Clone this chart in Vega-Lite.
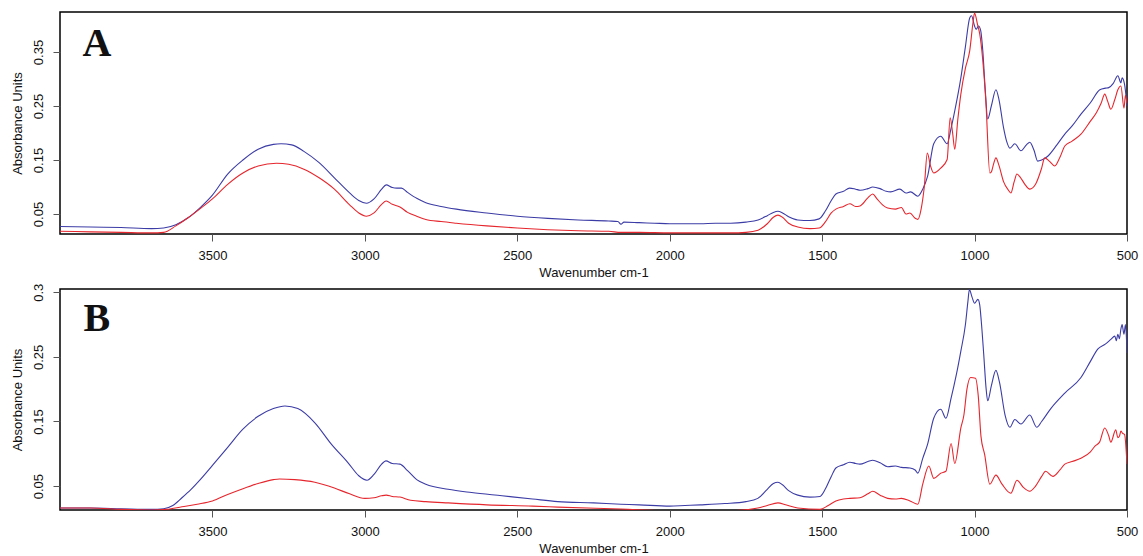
{
  "$schema": "https://vega.github.io/schema/vega-lite/v6.json",
  "padding": {"left": 10, "top": 11, "right": 0, "bottom": 0},
  "spacing": 55,
  "bounds": "flush",
  "config": {
    "view": {"stroke": "#000", "strokeWidth": 1.5},
    "font": "Liberation Sans",
    "axis": {"grid": false, "domain": false, "tickSize": 7, "tickColor": "#555", "labelColor": "#111", "titleColor": "#111", "labelFontSize": 13, "titleFontSize": 13, "titleFontWeight": "normal", "labelOverlap": false, "labelFlush": false}
  },
  "datasets": {
    "A": [
      {"s":"blue","wn":4000,"a":0.027},{"s":"blue","wn":3900,"a":0.026},{"s":"blue","wn":3800,"a":0.025},{"s":"blue","wn":3700,"a":0.023},{"s":"blue","wn":3660,"a":0.024},{"s":"blue","wn":3620,"a":0.030},{"s":"blue","wn":3580,"a":0.043},{"s":"blue","wn":3540,"a":0.062},{"s":"blue","wn":3500,"a":0.085},{"s":"blue","wn":3450,"a":0.124},{"s":"blue","wn":3400,"a":0.150},{"s":"blue","wn":3350,"a":0.170},{"s":"blue","wn":3300,"a":0.179},{"s":"blue","wn":3275,"a":0.180},{"s":"blue","wn":3240,"a":0.178},{"s":"blue","wn":3200,"a":0.166},{"s":"blue","wn":3150,"a":0.145},{"s":"blue","wn":3100,"a":0.117},{"s":"blue","wn":3050,"a":0.089},{"s":"blue","wn":3020,"a":0.075},{"s":"blue","wn":2995,"a":0.070},{"s":"blue","wn":2970,"a":0.078},{"s":"blue","wn":2945,"a":0.096},{"s":"blue","wn":2930,"a":0.104},{"s":"blue","wn":2910,"a":0.099},{"s":"blue","wn":2895,"a":0.098},{"s":"blue","wn":2880,"a":0.098},{"s":"blue","wn":2860,"a":0.090},{"s":"blue","wn":2830,"a":0.079},{"s":"blue","wn":2800,"a":0.071},{"s":"blue","wn":2750,"a":0.064},{"s":"blue","wn":2700,"a":0.059},{"s":"blue","wn":2600,"a":0.052},{"s":"blue","wn":2500,"a":0.046},{"s":"blue","wn":2400,"a":0.042},{"s":"blue","wn":2300,"a":0.039},{"s":"blue","wn":2200,"a":0.037},{"s":"blue","wn":2170,"a":0.036},{"s":"blue","wn":2160,"a":0.031},{"s":"blue","wn":2150,"a":0.035},{"s":"blue","wn":2100,"a":0.034},{"s":"blue","wn":2050,"a":0.033},{"s":"blue","wn":2000,"a":0.032},{"s":"blue","wn":1950,"a":0.032},{"s":"blue","wn":1900,"a":0.032},{"s":"blue","wn":1850,"a":0.033},{"s":"blue","wn":1800,"a":0.033},{"s":"blue","wn":1750,"a":0.035},{"s":"blue","wn":1710,"a":0.039},{"s":"blue","wn":1680,"a":0.047},{"s":"blue","wn":1660,"a":0.053},{"s":"blue","wn":1645,"a":0.055},{"s":"blue","wn":1630,"a":0.052},{"s":"blue","wn":1610,"a":0.045},{"s":"blue","wn":1580,"a":0.039},{"s":"blue","wn":1540,"a":0.038},{"s":"blue","wn":1510,"a":0.041},{"s":"blue","wn":1490,"a":0.055},{"s":"blue","wn":1470,"a":0.075},{"s":"blue","wn":1455,"a":0.087},{"s":"blue","wn":1430,"a":0.092},{"s":"blue","wn":1410,"a":0.098},{"s":"blue","wn":1390,"a":0.096},{"s":"blue","wn":1375,"a":0.094},{"s":"blue","wn":1350,"a":0.097},{"s":"blue","wn":1334,"a":0.100},{"s":"blue","wn":1310,"a":0.097},{"s":"blue","wn":1290,"a":0.092},{"s":"blue","wn":1275,"a":0.091},{"s":"blue","wn":1245,"a":0.096},{"s":"blue","wn":1225,"a":0.089},{"s":"blue","wn":1210,"a":0.091},{"s":"blue","wn":1186,"a":0.083},{"s":"blue","wn":1170,"a":0.096},{"s":"blue","wn":1154,"a":0.120},{"s":"blue","wn":1134,"a":0.180},{"s":"blue","wn":1111,"a":0.194},{"s":"blue","wn":1090,"a":0.180},{"s":"blue","wn":1077,"a":0.209},{"s":"blue","wn":1065,"a":0.241},{"s":"blue","wn":1045,"a":0.302},{"s":"blue","wn":1030,"a":0.360},{"s":"blue","wn":1016,"a":0.413},{"s":"blue","wn":1010,"a":0.417},{"s":"blue","wn":1000,"a":0.398},{"s":"blue","wn":995,"a":0.392},{"s":"blue","wn":987,"a":0.398},{"s":"blue","wn":980,"a":0.390},{"s":"blue","wn":973,"a":0.352},{"s":"blue","wn":965,"a":0.280},{"s":"blue","wn":957,"a":0.226},{"s":"blue","wn":945,"a":0.250},{"s":"blue","wn":930,"a":0.280},{"s":"blue","wn":920,"a":0.262},{"s":"blue","wn":905,"a":0.210},{"s":"blue","wn":895,"a":0.185},{"s":"blue","wn":884,"a":0.172},{"s":"blue","wn":868,"a":0.180},{"s":"blue","wn":848,"a":0.167},{"s":"blue","wn":830,"a":0.178},{"s":"blue","wn":819,"a":0.183},{"s":"blue","wn":805,"a":0.168},{"s":"blue","wn":793,"a":0.148},{"s":"blue","wn":780,"a":0.150},{"s":"blue","wn":760,"a":0.157},{"s":"blue","wn":730,"a":0.178},{"s":"blue","wn":704,"a":0.198},{"s":"blue","wn":680,"a":0.213},{"s":"blue","wn":651,"a":0.235},{"s":"blue","wn":620,"a":0.256},{"s":"blue","wn":589,"a":0.280},{"s":"blue","wn":570,"a":0.283},{"s":"blue","wn":560,"a":0.284},{"s":"blue","wn":545,"a":0.292},{"s":"blue","wn":530,"a":0.306},{"s":"blue","wn":520,"a":0.293},{"s":"blue","wn":516,"a":0.302},{"s":"blue","wn":508,"a":0.290},{"s":"blue","wn":500,"a":0.250},
      {"s":"red","wn":4000,"a":0.018},{"s":"red","wn":3900,"a":0.017},{"s":"red","wn":3800,"a":0.016},{"s":"red","wn":3700,"a":0.015},{"s":"red","wn":3660,"a":0.016},{"s":"red","wn":3620,"a":0.028},{"s":"red","wn":3580,"a":0.043},{"s":"red","wn":3540,"a":0.060},{"s":"red","wn":3500,"a":0.078},{"s":"red","wn":3450,"a":0.105},{"s":"red","wn":3400,"a":0.126},{"s":"red","wn":3350,"a":0.139},{"s":"red","wn":3290,"a":0.144},{"s":"red","wn":3250,"a":0.142},{"s":"red","wn":3200,"a":0.133},{"s":"red","wn":3150,"a":0.117},{"s":"red","wn":3100,"a":0.096},{"s":"red","wn":3050,"a":0.067},{"s":"red","wn":3020,"a":0.052},{"s":"red","wn":2995,"a":0.046},{"s":"red","wn":2970,"a":0.052},{"s":"red","wn":2945,"a":0.068},{"s":"red","wn":2930,"a":0.074},{"s":"red","wn":2910,"a":0.068},{"s":"red","wn":2885,"a":0.063},{"s":"red","wn":2860,"a":0.053},{"s":"red","wn":2830,"a":0.046},{"s":"red","wn":2800,"a":0.040},{"s":"red","wn":2750,"a":0.036},{"s":"red","wn":2700,"a":0.033},{"s":"red","wn":2600,"a":0.028},{"s":"red","wn":2500,"a":0.024},{"s":"red","wn":2400,"a":0.021},{"s":"red","wn":2300,"a":0.019},{"s":"red","wn":2200,"a":0.018},{"s":"red","wn":2160,"a":0.016},{"s":"red","wn":2100,"a":0.016},{"s":"red","wn":2000,"a":0.015},{"s":"red","wn":1900,"a":0.015},{"s":"red","wn":1800,"a":0.015},{"s":"red","wn":1750,"a":0.016},{"s":"red","wn":1710,"a":0.020},{"s":"red","wn":1680,"a":0.032},{"s":"red","wn":1660,"a":0.044},{"s":"red","wn":1645,"a":0.048},{"s":"red","wn":1630,"a":0.044},{"s":"red","wn":1610,"a":0.033},{"s":"red","wn":1580,"a":0.026},{"s":"red","wn":1540,"a":0.023},{"s":"red","wn":1510,"a":0.024},{"s":"red","wn":1490,"a":0.035},{"s":"red","wn":1470,"a":0.052},{"s":"red","wn":1455,"a":0.059},{"s":"red","wn":1430,"a":0.064},{"s":"red","wn":1409,"a":0.069},{"s":"red","wn":1390,"a":0.064},{"s":"red","wn":1376,"a":0.065},{"s":"red","wn":1350,"a":0.080},{"s":"red","wn":1334,"a":0.087},{"s":"red","wn":1320,"a":0.078},{"s":"red","wn":1300,"a":0.066},{"s":"red","wn":1285,"a":0.061},{"s":"red","wn":1260,"a":0.059},{"s":"red","wn":1240,"a":0.062},{"s":"red","wn":1225,"a":0.050},{"s":"red","wn":1212,"a":0.052},{"s":"red","wn":1195,"a":0.042},{"s":"red","wn":1186,"a":0.040},{"s":"red","wn":1175,"a":0.060},{"s":"red","wn":1165,"a":0.100},{"s":"red","wn":1155,"a":0.163},{"s":"red","wn":1145,"a":0.140},{"s":"red","wn":1134,"a":0.126},{"s":"red","wn":1111,"a":0.135},{"s":"red","wn":1090,"a":0.151},{"s":"red","wn":1080,"a":0.228},{"s":"red","wn":1072,"a":0.200},{"s":"red","wn":1065,"a":0.170},{"s":"red","wn":1055,"a":0.225},{"s":"red","wn":1045,"a":0.272},{"s":"red","wn":1030,"a":0.320},{"s":"red","wn":1016,"a":0.352},{"s":"red","wn":1005,"a":0.405},{"s":"red","wn":1000,"a":0.422},{"s":"red","wn":990,"a":0.400},{"s":"red","wn":983,"a":0.383},{"s":"red","wn":963,"a":0.259},{"s":"red","wn":950,"a":0.126},{"s":"red","wn":945,"a":0.128},{"s":"red","wn":938,"a":0.142},{"s":"red","wn":930,"a":0.154},{"s":"red","wn":920,"a":0.140},{"s":"red","wn":905,"a":0.110},{"s":"red","wn":890,"a":0.095},{"s":"red","wn":881,"a":0.089},{"s":"red","wn":870,"a":0.110},{"s":"red","wn":861,"a":0.124},{"s":"red","wn":850,"a":0.118},{"s":"red","wn":835,"a":0.105},{"s":"red","wn":819,"a":0.096},{"s":"red","wn":800,"a":0.105},{"s":"red","wn":780,"a":0.135},{"s":"red","wn":770,"a":0.154},{"s":"red","wn":755,"a":0.148},{"s":"red","wn":737,"a":0.139},{"s":"red","wn":720,"a":0.155},{"s":"red","wn":704,"a":0.176},{"s":"red","wn":680,"a":0.185},{"s":"red","wn":651,"a":0.198},{"s":"red","wn":620,"a":0.222},{"s":"red","wn":600,"a":0.238},{"s":"red","wn":585,"a":0.255},{"s":"red","wn":573,"a":0.272},{"s":"red","wn":563,"a":0.258},{"s":"red","wn":553,"a":0.244},{"s":"red","wn":540,"a":0.262},{"s":"red","wn":530,"a":0.280},{"s":"red","wn":520,"a":0.287},{"s":"red","wn":510,"a":0.246},{"s":"red","wn":505,"a":0.270},{"s":"red","wn":500,"a":0.255}
    ],
    "B": [
      {"s":"blue","wn":4000,"a":0.016},{"s":"blue","wn":3900,"a":0.016},{"s":"blue","wn":3800,"a":0.015},{"s":"blue","wn":3700,"a":0.014},{"s":"blue","wn":3660,"a":0.015},{"s":"blue","wn":3630,"a":0.020},{"s":"blue","wn":3600,"a":0.032},{"s":"blue","wn":3570,"a":0.045},{"s":"blue","wn":3540,"a":0.060},{"s":"blue","wn":3500,"a":0.082},{"s":"blue","wn":3450,"a":0.110},{"s":"blue","wn":3400,"a":0.138},{"s":"blue","wn":3350,"a":0.158},{"s":"blue","wn":3300,"a":0.170},{"s":"blue","wn":3262,"a":0.174},{"s":"blue","wn":3220,"a":0.170},{"s":"blue","wn":3164,"a":0.148},{"s":"blue","wn":3110,"a":0.115},{"s":"blue","wn":3055,"a":0.086},{"s":"blue","wn":3020,"a":0.066},{"s":"blue","wn":2993,"a":0.059},{"s":"blue","wn":2970,"a":0.068},{"s":"blue","wn":2945,"a":0.084},{"s":"blue","wn":2931,"a":0.089},{"s":"blue","wn":2910,"a":0.085},{"s":"blue","wn":2885,"a":0.084},{"s":"blue","wn":2860,"a":0.074},{"s":"blue","wn":2830,"a":0.060},{"s":"blue","wn":2800,"a":0.053},{"s":"blue","wn":2727,"a":0.045},{"s":"blue","wn":2650,"a":0.040},{"s":"blue","wn":2550,"a":0.035},{"s":"blue","wn":2450,"a":0.030},{"s":"blue","wn":2367,"a":0.026},{"s":"blue","wn":2250,"a":0.024},{"s":"blue","wn":2160,"a":0.022},{"s":"blue","wn":2100,"a":0.021},{"s":"blue","wn":2000,"a":0.019},{"s":"blue","wn":1950,"a":0.020},{"s":"blue","wn":1900,"a":0.021},{"s":"blue","wn":1819,"a":0.023},{"s":"blue","wn":1750,"a":0.026},{"s":"blue","wn":1711,"a":0.031},{"s":"blue","wn":1680,"a":0.045},{"s":"blue","wn":1660,"a":0.054},{"s":"blue","wn":1645,"a":0.056},{"s":"blue","wn":1630,"a":0.052},{"s":"blue","wn":1610,"a":0.043},{"s":"blue","wn":1580,"a":0.036},{"s":"blue","wn":1540,"a":0.033},{"s":"blue","wn":1507,"a":0.034},{"s":"blue","wn":1490,"a":0.045},{"s":"blue","wn":1470,"a":0.065},{"s":"blue","wn":1455,"a":0.078},{"s":"blue","wn":1430,"a":0.083},{"s":"blue","wn":1409,"a":0.087},{"s":"blue","wn":1390,"a":0.085},{"s":"blue","wn":1376,"a":0.084},{"s":"blue","wn":1350,"a":0.088},{"s":"blue","wn":1334,"a":0.090},{"s":"blue","wn":1310,"a":0.086},{"s":"blue","wn":1285,"a":0.080},{"s":"blue","wn":1260,"a":0.081},{"s":"blue","wn":1240,"a":0.079},{"s":"blue","wn":1212,"a":0.078},{"s":"blue","wn":1195,"a":0.075},{"s":"blue","wn":1186,"a":0.070},{"s":"blue","wn":1170,"a":0.093},{"s":"blue","wn":1154,"a":0.115},{"s":"blue","wn":1134,"a":0.155},{"s":"blue","wn":1111,"a":0.169},{"s":"blue","wn":1094,"a":0.155},{"s":"blue","wn":1077,"a":0.186},{"s":"blue","wn":1060,"a":0.222},{"s":"blue","wn":1045,"a":0.259},{"s":"blue","wn":1030,"a":0.300},{"s":"blue","wn":1022,"a":0.335},{"s":"blue","wn":1017,"a":0.354},{"s":"blue","wn":1008,"a":0.342},{"s":"blue","wn":1000,"a":0.333},{"s":"blue","wn":989,"a":0.339},{"s":"blue","wn":983,"a":0.330},{"s":"blue","wn":978,"a":0.305},{"s":"blue","wn":970,"a":0.254},{"s":"blue","wn":962,"a":0.200},{"s":"blue","wn":957,"a":0.182},{"s":"blue","wn":945,"a":0.205},{"s":"blue","wn":930,"a":0.229},{"s":"blue","wn":918,"a":0.210},{"s":"blue","wn":900,"a":0.160},{"s":"blue","wn":884,"a":0.141},{"s":"blue","wn":868,"a":0.153},{"s":"blue","wn":848,"a":0.146},{"s":"blue","wn":819,"a":0.160},{"s":"blue","wn":796,"a":0.141},{"s":"blue","wn":780,"a":0.150},{"s":"blue","wn":750,"a":0.170},{"s":"blue","wn":704,"a":0.194},{"s":"blue","wn":651,"a":0.218},{"s":"blue","wn":620,"a":0.243},{"s":"blue","wn":596,"a":0.262},{"s":"blue","wn":570,"a":0.270},{"s":"blue","wn":553,"a":0.277},{"s":"blue","wn":540,"a":0.282},{"s":"blue","wn":535,"a":0.275},{"s":"blue","wn":530,"a":0.285},{"s":"blue","wn":525,"a":0.278},{"s":"blue","wn":520,"a":0.293},{"s":"blue","wn":516,"a":0.300},{"s":"blue","wn":510,"a":0.285},{"s":"blue","wn":505,"a":0.300},{"s":"blue","wn":500,"a":0.256},
      {"s":"red","wn":4000,"a":0.016},{"s":"red","wn":3900,"a":0.016},{"s":"red","wn":3800,"a":0.014},{"s":"red","wn":3700,"a":0.013},{"s":"red","wn":3650,"a":0.014},{"s":"red","wn":3600,"a":0.018},{"s":"red","wn":3550,"a":0.022},{"s":"red","wn":3500,"a":0.027},{"s":"red","wn":3450,"a":0.037},{"s":"red","wn":3400,"a":0.046},{"s":"red","wn":3350,"a":0.054},{"s":"red","wn":3300,"a":0.060},{"s":"red","wn":3280,"a":0.061},{"s":"red","wn":3230,"a":0.060},{"s":"red","wn":3164,"a":0.056},{"s":"red","wn":3100,"a":0.047},{"s":"red","wn":3050,"a":0.038},{"s":"red","wn":3000,"a":0.031},{"s":"red","wn":2970,"a":0.032},{"s":"red","wn":2945,"a":0.035},{"s":"red","wn":2930,"a":0.036},{"s":"red","wn":2910,"a":0.034},{"s":"red","wn":2885,"a":0.033},{"s":"red","wn":2850,"a":0.028},{"s":"red","wn":2800,"a":0.026},{"s":"red","wn":2727,"a":0.024},{"s":"red","wn":2600,"a":0.021},{"s":"red","wn":2450,"a":0.019},{"s":"red","wn":2367,"a":0.0175},{"s":"red","wn":2160,"a":0.0145},{"s":"red","wn":2000,"a":0.012},{"s":"red","wn":1900,"a":0.012},{"s":"red","wn":1800,"a":0.012},{"s":"red","wn":1711,"a":0.016},{"s":"red","wn":1680,"a":0.020},{"s":"red","wn":1645,"a":0.024},{"s":"red","wn":1620,"a":0.021},{"s":"red","wn":1580,"a":0.016},{"s":"red","wn":1507,"a":0.014},{"s":"red","wn":1480,"a":0.020},{"s":"red","wn":1455,"a":0.027},{"s":"red","wn":1430,"a":0.030},{"s":"red","wn":1409,"a":0.031},{"s":"red","wn":1376,"a":0.032},{"s":"red","wn":1350,"a":0.038},{"s":"red","wn":1334,"a":0.042},{"s":"red","wn":1310,"a":0.036},{"s":"red","wn":1285,"a":0.031},{"s":"red","wn":1260,"a":0.030},{"s":"red","wn":1240,"a":0.031},{"s":"red","wn":1212,"a":0.027},{"s":"red","wn":1186,"a":0.022},{"s":"red","wn":1170,"a":0.053},{"s":"red","wn":1150,"a":0.081},{"s":"red","wn":1134,"a":0.062},{"s":"red","wn":1111,"a":0.070},{"s":"red","wn":1094,"a":0.073},{"s":"red","wn":1077,"a":0.116},{"s":"red","wn":1065,"a":0.085},{"s":"red","wn":1045,"a":0.140},{"s":"red","wn":1035,"a":0.160},{"s":"red","wn":1025,"a":0.200},{"s":"red","wn":1013,"a":0.218},{"s":"red","wn":997,"a":0.217},{"s":"red","wn":988,"a":0.190},{"s":"red","wn":979,"a":0.127},{"s":"red","wn":967,"a":0.099},{"s":"red","wn":950,"a":0.053},{"s":"red","wn":930,"a":0.067},{"s":"red","wn":910,"a":0.053},{"s":"red","wn":881,"a":0.039},{"s":"red","wn":861,"a":0.059},{"s":"red","wn":840,"a":0.048},{"s":"red","wn":819,"a":0.042},{"s":"red","wn":800,"a":0.050},{"s":"red","wn":780,"a":0.065},{"s":"red","wn":767,"a":0.073},{"s":"red","wn":743,"a":0.065},{"s":"red","wn":720,"a":0.075},{"s":"red","wn":704,"a":0.084},{"s":"red","wn":680,"a":0.088},{"s":"red","wn":651,"a":0.093},{"s":"red","wn":620,"a":0.103},{"s":"red","wn":605,"a":0.112},{"s":"red","wn":590,"a":0.118},{"s":"red","wn":573,"a":0.140},{"s":"red","wn":560,"a":0.128},{"s":"red","wn":553,"a":0.118},{"s":"red","wn":537,"a":0.137},{"s":"red","wn":530,"a":0.125},{"s":"red","wn":525,"a":0.127},{"s":"red","wn":520,"a":0.135},{"s":"red","wn":515,"a":0.132},{"s":"red","wn":508,"a":0.130},{"s":"red","wn":500,"a":0.084}
    ]
  },
  "vconcat": [
    {
      "width": 1067,
      "height": 222,
      "layer": [
        {
          "data": {"name": "A"},
          "mark": {"type": "line", "strokeWidth": 1.1, "clip": true, "interpolate": "monotone"},
          "encoding": {
            "x": {"field": "wn", "type": "quantitative", "scale": {"domain": [500, 4000], "reverse": true, "nice": false, "zero": false},
              "axis": {"values": [3500, 3000, 2500, 2000, 1500, 1000, 500], "format": "d", "title": "Wavenumber cm-1", "labelPadding": 8, "titlePadding": 4}},
            "y": {"field": "a", "type": "quantitative", "scale": {"domain": [0.013, 0.424], "nice": false, "zero": false},
              "axis": {"values": [0.05, 0.1, 0.15, 0.2, 0.25, 0.3, 0.35, 0.4], "labelExpr": "round(datum.value*100) % 10 == 5 ? format(datum.value, '.2f') : ''", "title": "Absorbance Units", "labelAngle": -90, "labelAlign": "center", "labelBaseline": "bottom", "labelPadding": 8, "titlePadding": 8}},
            "color": {"field": "s", "type": "nominal", "scale": {"domain": ["blue", "red"], "range": ["#3c3ca6", "#e5262d"]}, "legend": null}
          }
        },
        {
          "data": {"values": [{"wn": 3879, "a": 0.343, "t": "A"}]},
          "mark": {"type": "text", "font": "Liberation Serif", "fontWeight": "bold", "fontSize": 40, "align": "center", "baseline": "alphabetic", "color": "#111"},
          "encoding": {
            "x": {"field": "wn", "type": "quantitative"},
            "y": {"field": "a", "type": "quantitative"},
            "text": {"field": "t"}
          }
        }
      ]
    },
    {
      "width": 1067,
      "height": 221,
      "layer": [
        {
          "data": {"name": "B"},
          "mark": {"type": "line", "strokeWidth": 1.1, "clip": true, "interpolate": "monotone"},
          "encoding": {
            "x": {"field": "wn", "type": "quantitative", "scale": {"domain": [500, 4000], "reverse": true, "nice": false, "zero": false},
              "axis": {"values": [3500, 3000, 2500, 2000, 1500, 1000, 500], "format": "d", "title": "Wavenumber cm-1", "labelPadding": 8, "titlePadding": 4}},
            "y": {"field": "a", "type": "quantitative", "scale": {"domain": [0.013, 0.355], "nice": false, "zero": false},
              "axis": {"values": [0.05, 0.1, 0.15, 0.2, 0.25, 0.3, 0.35], "labelExpr": "round(datum.value*100) == 35 ? '0.3' : (round(datum.value*100) % 10 == 5 ? format(datum.value, '.2f') : '')", "title": "Absorbance Units", "labelAngle": -90, "labelAlign": "center", "labelBaseline": "bottom", "labelPadding": 8, "titlePadding": 8}},
            "color": {"field": "s", "type": "nominal", "scale": {"domain": ["blue", "red"], "range": ["#3c3ca6", "#e5262d"]}, "legend": null}
          }
        },
        {
          "data": {"values": [{"wn": 3879, "a": 0.290, "t": "B"}]},
          "mark": {"type": "text", "font": "Liberation Serif", "fontWeight": "bold", "fontSize": 40, "align": "center", "baseline": "alphabetic", "color": "#111"},
          "encoding": {
            "x": {"field": "wn", "type": "quantitative"},
            "y": {"field": "a", "type": "quantitative"},
            "text": {"field": "t"}
          }
        }
      ]
    }
  ]
}
